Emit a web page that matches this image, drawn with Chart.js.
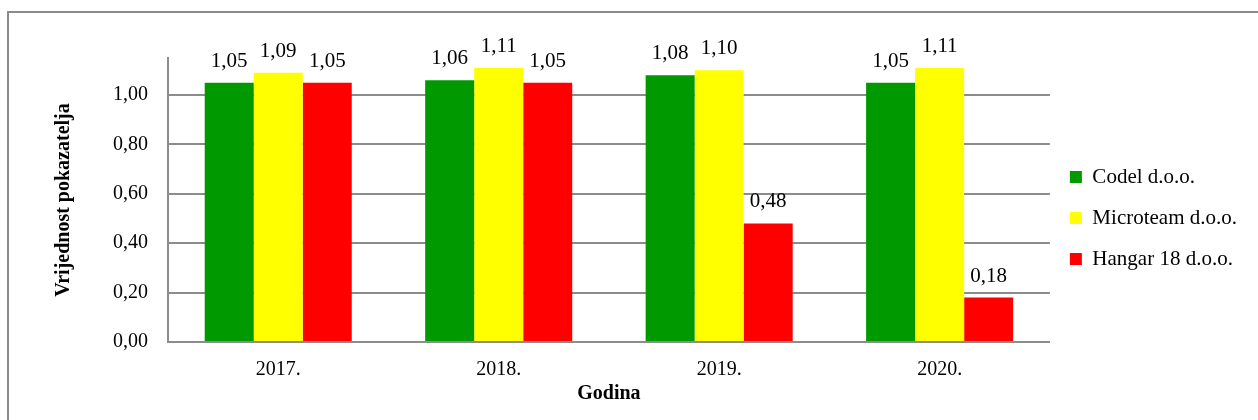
<!DOCTYPE html>
<html>
<head>
<meta charset="utf-8">
<script src="https://cdn.jsdelivr.net/npm/chart.js@4.4.1/dist/chart.umd.min.js"></script>
<style>
  html, body { margin: 0; padding: 0; background: #fff; }
  #wrap { width: 1258px; height: 420px; position: relative; }
</style>
</head>
<body>
<div id="wrap"><canvas id="grafik" width="1258" height="420"></canvas></div>
<script>
const godine = ['2017.', '2018.', '2019.', '2020.'];
const codel = [1.05, 1.06, 1.08, 1.05];
const microteam = [1.09, 1.11, 1.10, 1.11];
const hangar = [1.05, 1.05, 0.48, 0.18];
const yTicks = [0, 0.2, 0.4, 0.6, 0.8, 1.0];

const font = "'Liberation Serif', 'Times New Roman', serif";
const sivo = '#8c8c8c';

function zarez(v) {
  return v.toFixed(2).replace('.', ',');
}

// okvir oko grafikona (gore i lijevo)
const okvir = {
  id: 'okvir',
  beforeDraw(chart) {
    const c = chart.ctx;
    c.save();
    c.strokeStyle = '#8a8a8a';
    c.lineWidth = 2;
    c.beginPath();
    c.moveTo(8, 430);
    c.lineTo(8, 12);
    c.lineTo(1270, 12);
    c.stroke();
    c.restore();
  }
};

// vrijednosti iznad stupaca
const oznake = {
  id: 'oznake',
  afterDatasetsDraw(chart) {
    const c = chart.ctx;
    c.save();
    c.font = '21px ' + font;
    c.fillStyle = '#000';
    c.textAlign = 'center';
    c.textBaseline = 'alphabetic';
    chart.data.datasets.forEach((ds, i) => {
      chart.getDatasetMeta(i).data.forEach((bar, j) => {
        c.fillText(zarez(ds.data[j]), bar.x, bar.y - 16);
      });
    });
    c.restore();
  }
};

const dno = 42;

const ctx = document.getElementById('grafik').getContext('2d');
const grafik = new Chart(ctx, {
  type: 'bar',
  data: {
    labels: godine,
    datasets: [
      { label: 'Codel d.o.o.', data: codel, backgroundColor: '#009900' },
      { label: 'Microteam d.o.o.', data: microteam, backgroundColor: '#ffff00' },
      { label: 'Hangar 18 d.o.o.', data: hangar, backgroundColor: '#ff0000' }
    ]
  },
  options: {
    responsive: false,
    animation: false,
    datasets: {
      bar: { categoryPercentage: 0.667, barPercentage: 1.0 }
    },
    layout: { padding: { left: 52, top: 58, right: 11, bottom: dno } },
    plugins: {
      tooltip: { enabled: false },
      legend: {
        position: 'right',
        labels: {
          boxWidth: 12,
          boxHeight: 12,
          padding: 20,
          color: '#000',
          font: { family: font, size: 21 }
        }
      }
    },
    scales: {
      x: {
        grid: { display: false },
        border: { display: true, color: sivo, width: 2 },
        ticks: { color: '#000', padding: 8, font: { family: font, size: 20 } },
        title: {
          display: true, text: 'Godina', color: '#000',
          padding: { top: 0, bottom: -28 },
          font: { family: font, size: 20, weight: 'bold' }
        },
        afterFit(scale) { scale.height = 420 - 342 - dno; }
      },
      y: {
        min: 0,
        max: 1.15,
        grid: { color: sivo, lineWidth: 2, drawTicks: false },
        border: { display: true, color: sivo, width: 2 },
        ticks: {
          color: '#000', padding: 20,
          font: { family: font, size: 20 },
          callback: v => zarez(v)
        },
        afterBuildTicks(scale) {
          scale.ticks = yTicks.map(v => ({ value: v }));
        },
        title: {
          display: true, text: 'Vrijednost pokazatelja', color: '#000', padding: 0,
          font: { family: font, size: 20, weight: 'bold' }
        },
        afterFit(scale) { scale.width = 168 - 52; }
      }
    }
  },
  plugins: [okvir, oznake]
});
</script>
</body>
</html>
